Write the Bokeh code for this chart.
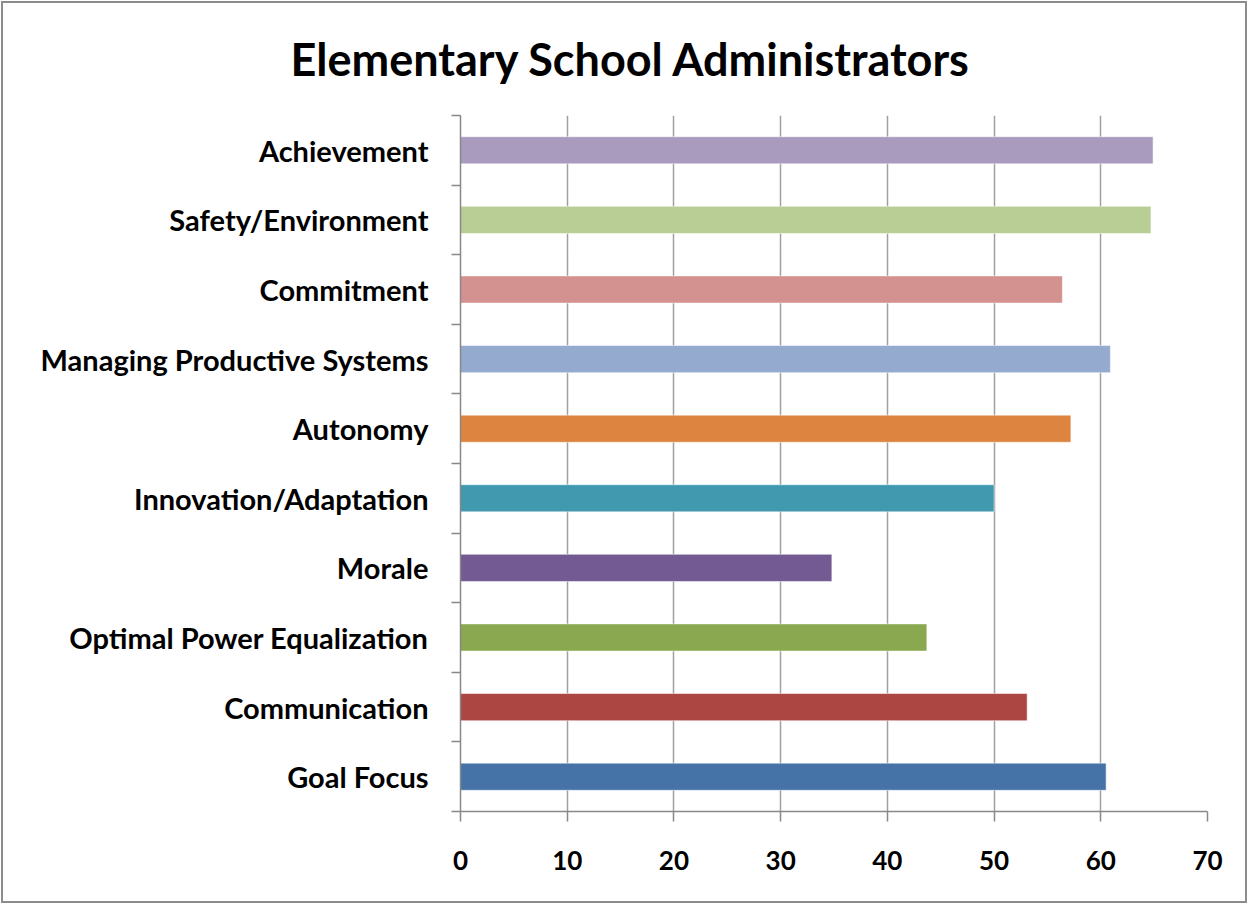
from bokeh.plotting import figure
from bokeh.models import FixedTicker, Range1d
from bokeh.embed import file_html
from bokeh.resources import INLINE

# Data (bottom to top)
title_text = "Elementary School Administrators"
categories = ["Goal Focus", "Communication", "Optimal Power Equalization", "Morale",
              "Innovation/Adaptation", "Autonomy", "Managing Productive Systems",
              "Commitment", "Safety/Environment", "Achievement"]
values = [60.5, 53.1, 43.7, 34.8, 50.0, 57.2, 60.9, 56.4, 64.7, 64.9]
colors = ["#4573A7", "#AB4643", "#8AA84F", "#735A92", "#4199AF",
          "#DD8540", "#95AACF", "#D39190", "#B9CE95", "#A99BBD"]
x_ticks = [0, 10, 20, 30, 40, 50, 60, 70]

ypos = [i + 0.5 for i in range(len(categories))]

W, H = 1246, 902
p = figure(width=W, height=H, output_backend="svg", toolbar_location=None,
           x_range=Range1d(0, 70), y_range=Range1d(0, len(categories)),
           min_border_left=457, min_border_right=42, min_border_top=112,
           min_border_bottom=94,
           styles={"border": "2px solid #8c8c8c", "margin": "1px"})

p.hbar(y=ypos, right=values, left=0, height=0.39, fill_color=colors,
       line_color="white", line_alpha=0.5, line_width=1)

# Title
p.title.text = title_text
p.title.text_font = "Lato"
p.title.text_font_size = "45px"
p.title.text_font_style = "bold"
p.title.text_color = "black"
p.title.align = "left"
p.title.offset = -170
p.title.vertical_align = "top"
p.title.standoff = 56

p.outline_line_color = None

# X axis
xa = p.xaxis[0]
xa.ticker = FixedTicker(ticks=x_ticks, minor_ticks=[])
xa.axis_line_color = "#888888"
xa.axis_line_width = 1.5
xa.major_tick_line_color = "#888888"
xa.major_tick_line_width = 1.5
xa.major_tick_out = 10
xa.major_tick_in = 0
xa.minor_tick_line_color = None
xa.major_label_text_font = "Lato"
xa.major_label_text_font_size = "26px"
xa.major_label_text_font_style = "bold"
xa.major_label_text_color = "black"
xa.major_label_standoff = 29

# Y axis
ya = p.yaxis[0]
ya.ticker = FixedTicker(ticks=ypos, minor_ticks=list(range(len(categories) + 1)))
ya.major_label_overrides = {y: c for y, c in zip(ypos, categories)}
ya.axis_line_color = "#888888"
ya.axis_line_width = 1.5
ya.major_tick_line_color = None
ya.major_tick_out = 0
ya.major_tick_in = 0
ya.minor_tick_line_color = "#888888"
ya.minor_tick_line_width = 1.5
ya.minor_tick_out = 9
ya.minor_tick_in = 0
ya.major_label_text_font = "Lato"
ya.major_label_text_font_size = "29px"
ya.major_label_text_font_style = "bold"
ya.major_label_text_color = "black"
ya.major_label_standoff = 23

# Grid
p.xgrid.grid_line_color = "#a0a0a0"
p.xgrid.grid_line_width = 1.5
p.xgrid.ticker = FixedTicker(ticks=x_ticks)
p.ygrid.grid_line_color = None

p.background_fill_color = "white"
p.border_fill_color = "white"

open("out.html", "w").write(file_html(p, INLINE))
